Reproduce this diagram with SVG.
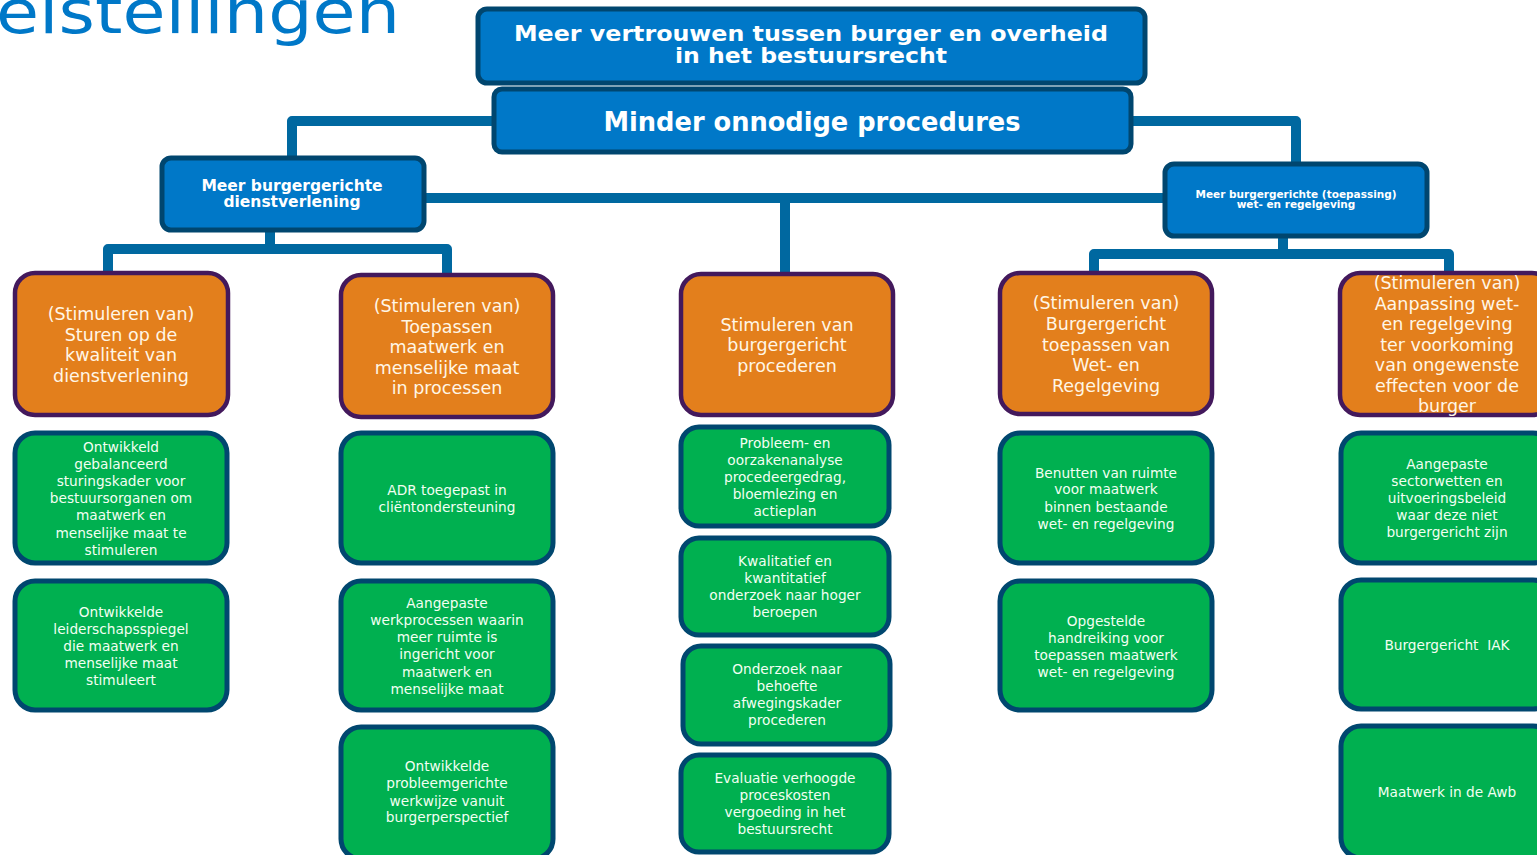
<svg xmlns="http://www.w3.org/2000/svg" width="1537" height="855" viewBox="0 0 1537 855">
<style>
.bg{fill:#ffffff}
.blue{fill:#0078C8;stroke:#00466F;stroke-width:5}
.org{fill:#E37F1C;stroke:#43195C;stroke-width:4.5}
.grn{fill:#00B050;stroke:#00476F;stroke-width:5}
.con{fill:none;stroke:#0068A0;stroke-width:10;stroke-linejoin:round}
.tb{font-family:"DejaVu Sans","Verdana",sans-serif;font-weight:bold;fill:#ffffff;text-anchor:middle}
.to{font-family:"DejaVu Sans","Verdana",sans-serif;font-size:17.5px;fill:#FFF6E6;text-anchor:middle}
.tg{font-family:"DejaVu Sans","Verdana",sans-serif;font-size:13.7px;fill:#F2FFF2;text-anchor:middle}
.title{font-family:"DejaVu Sans","Verdana",sans-serif;font-size:60px;fill:#0078C8}
</style>
<rect class="bg" x="0" y="0" width="1537" height="855"/>
<text class="title" x="-4" y="33" textLength="404" lengthAdjust="spacingAndGlyphs">eistellingen</text>

<g id="connectors">
  <path class="con" d="M494,121 H292 V160"/>
  <path class="con" d="M1131,121 H1296 V166"/>
  <path class="con" d="M424,198 H1165"/>
  <path class="con" d="M785,198 V274"/>
  <path class="con" d="M270,230 V249"/>
  <path class="con" d="M108,274 V249 H447 V276"/>
  <path class="con" d="M1283,236 V254"/>
  <path class="con" d="M1094,274 V254 H1449 V274"/>
</g>

<g id="n-top">
  <rect class="blue" x="478" y="9" width="667" height="74" rx="9"/>
  <text class="tb" x="811" y="41" font-size="22" textLength="594" lengthAdjust="spacingAndGlyphs">Meer vertrouwen tussen burger en overheid</text>
  <text class="tb" x="811" y="63" font-size="22" textLength="272" lengthAdjust="spacingAndGlyphs">in het bestuursrecht</text>
</g>
<g id="n-minder">
  <rect class="blue" x="494" y="89" width="637" height="63" rx="8"/>
  <text class="tb" x="812" y="131" font-size="27" textLength="417" lengthAdjust="spacingAndGlyphs">Minder onnodige procedures</text>
</g>
<g id="n-dienst">
  <rect class="blue" x="162" y="158" width="262" height="72" rx="9"/>
  <text class="tb" x="292" y="191" font-size="15.5">Meer burgergerichte</text>
  <text class="tb" x="292" y="207" font-size="15.5">dienstverlening</text>
</g>
<g id="n-wet">
  <rect class="blue" x="1165" y="164" width="262" height="72" rx="9"/>
  <text class="tb" x="1296" y="198" font-size="10.5">Meer burgergerichte (toepassing)</text>
  <text class="tb" x="1296" y="208" font-size="10.5">wet- en regelgeving</text>
</g>

<g id="o1">
  <rect class="org" x="15" y="273" width="213" height="142" rx="20"/>
  <text class="to" x="121" y="320">(Stimuleren van)</text>
  <text class="to" x="121" y="341">Sturen op de</text>
  <text class="to" x="121" y="361">kwaliteit van</text>
  <text class="to" x="121" y="382">dienstverlening</text>
</g>
<g id="o2">
  <rect class="org" x="341" y="275" width="212" height="142" rx="20"/>
  <text class="to" x="447" y="312">(Stimuleren van)</text>
  <text class="to" x="447" y="333">Toepassen</text>
  <text class="to" x="447" y="353">maatwerk en</text>
  <text class="to" x="447" y="374">menselijke maat</text>
  <text class="to" x="447" y="394">in processen</text>
</g>
<g id="o3">
  <rect class="org" x="681" y="274" width="212" height="141" rx="20"/>
  <text class="to" x="787" y="331">Stimuleren van</text>
  <text class="to" x="787" y="351">burgergericht</text>
  <text class="to" x="787" y="372">procederen</text>
</g>
<g id="o4">
  <rect class="org" x="1000" y="273" width="212" height="141" rx="20"/>
  <text class="to" x="1106" y="309">(Stimuleren van)</text>
  <text class="to" x="1106" y="330">Burgergericht</text>
  <text class="to" x="1106" y="351">toepassen van</text>
  <text class="to" x="1106" y="371">Wet- en</text>
  <text class="to" x="1106" y="392">Regelgeving</text>
</g>
<g id="o5">
  <rect class="org" x="1340" y="273" width="212" height="142" rx="20"/>
  <text class="to" x="1447" y="289">(Stimuleren van)</text>
  <text class="to" x="1447" y="310">Aanpassing wet-</text>
  <text class="to" x="1447" y="330">en regelgeving</text>
  <text class="to" x="1447" y="351">ter voorkoming</text>
  <text class="to" x="1447" y="371">van ongewenste</text>
  <text class="to" x="1447" y="392">effecten voor de</text>
  <text class="to" x="1447" y="412">burger</text>
</g>

<g id="g1a">
  <rect class="grn" x="15" y="433" width="212" height="130" rx="20"/>
  <text class="tg" x="121" y="452">Ontwikkeld</text>
  <text class="tg" x="121" y="469">gebalanceerd</text>
  <text class="tg" x="121" y="486">sturingskader voor</text>
  <text class="tg" x="121" y="503">bestuursorganen om</text>
  <text class="tg" x="121" y="520">maatwerk en</text>
  <text class="tg" x="121" y="538">menselijke maat te</text>
  <text class="tg" x="121" y="555">stimuleren</text>
</g>
<g id="g1b">
  <rect class="grn" x="15" y="581" width="212" height="129" rx="20"/>
  <text class="tg" x="121" y="617">Ontwikkelde</text>
  <text class="tg" x="121" y="634">leiderschapsspiegel</text>
  <text class="tg" x="121" y="651">die maatwerk en</text>
  <text class="tg" x="121" y="668">menselijke maat</text>
  <text class="tg" x="121" y="685">stimuleert</text>
</g>
<g id="g2a">
  <rect class="grn" x="341" y="433" width="212" height="130" rx="20"/>
  <text class="tg" x="447" y="495">ADR toegepast in</text>
  <text class="tg" x="447" y="512">cliëntondersteuning</text>
</g>
<g id="g2b">
  <rect class="grn" x="341" y="581" width="212" height="129" rx="20"/>
  <text class="tg" x="447" y="608">Aangepaste</text>
  <text class="tg" x="447" y="625">werkprocessen waarin</text>
  <text class="tg" x="447" y="642">meer ruimte is</text>
  <text class="tg" x="447" y="659">ingericht voor</text>
  <text class="tg" x="447" y="677">maatwerk en</text>
  <text class="tg" x="447" y="694">menselijke maat</text>
</g>
<g id="g2c">
  <rect class="grn" x="341" y="727" width="212" height="132" rx="20"/>
  <text class="tg" x="447" y="771">Ontwikkelde</text>
  <text class="tg" x="447" y="788">probleemgerichte</text>
  <text class="tg" x="447" y="806">werkwijze vanuit</text>
  <text class="tg" x="447" y="822">burgerperspectief</text>
</g>
<g id="g3a">
  <rect class="grn" x="681" y="427" width="208" height="99" rx="18"/>
  <text class="tg" x="785" y="448">Probleem- en</text>
  <text class="tg" x="785" y="465">oorzakenanalyse</text>
  <text class="tg" x="785" y="482">procedeergedrag,</text>
  <text class="tg" x="785" y="499">bloemlezing en</text>
  <text class="tg" x="785" y="516">actieplan</text>
</g>
<g id="g3b">
  <rect class="grn" x="681" y="538" width="208" height="97" rx="18"/>
  <text class="tg" x="785" y="566">Kwalitatief en</text>
  <text class="tg" x="785" y="583">kwantitatief</text>
  <text class="tg" x="785" y="600">onderzoek naar hoger</text>
  <text class="tg" x="785" y="617">beroepen</text>
</g>
<g id="g3c">
  <rect class="grn" x="683" y="646" width="207" height="98" rx="18"/>
  <text class="tg" x="787" y="674">Onderzoek naar</text>
  <text class="tg" x="787" y="691">behoefte</text>
  <text class="tg" x="787" y="708">afwegingskader</text>
  <text class="tg" x="787" y="725">procederen</text>
</g>
<g id="g3d">
  <rect class="grn" x="681" y="755" width="208" height="97" rx="18"/>
  <text class="tg" x="785" y="783">Evaluatie verhoogde</text>
  <text class="tg" x="785" y="800">proceskosten</text>
  <text class="tg" x="785" y="817">vergoeding in het</text>
  <text class="tg" x="785" y="834">bestuursrecht</text>
</g>
<g id="g4a">
  <rect class="grn" x="1000" y="433" width="212" height="130" rx="20"/>
  <text class="tg" x="1106" y="478">Benutten van ruimte</text>
  <text class="tg" x="1106" y="494">voor maatwerk</text>
  <text class="tg" x="1106" y="512">binnen bestaande</text>
  <text class="tg" x="1106" y="529">wet- en regelgeving</text>
</g>
<g id="g4b">
  <rect class="grn" x="1000" y="581" width="212" height="129" rx="20"/>
  <text class="tg" x="1106" y="626">Opgestelde</text>
  <text class="tg" x="1106" y="643">handreiking voor</text>
  <text class="tg" x="1106" y="660">toepassen maatwerk</text>
  <text class="tg" x="1106" y="677">wet- en regelgeving</text>
</g>
<g id="g5a">
  <rect class="grn" x="1341" y="433" width="212" height="130" rx="20"/>
  <text class="tg" x="1447" y="469">Aangepaste</text>
  <text class="tg" x="1447" y="486">sectorwetten en</text>
  <text class="tg" x="1447" y="503">uitvoeringsbeleid</text>
  <text class="tg" x="1447" y="520">waar deze niet</text>
  <text class="tg" x="1447" y="537">burgergericht zijn</text>
</g>
<g id="g5b">
  <rect class="grn" x="1341" y="580" width="212" height="129" rx="20"/>
  <text class="tg" x="1447" y="650" xml:space="preserve">Burgergericht  IAK</text>
</g>
<g id="g5c">
  <rect class="grn" x="1341" y="726" width="212" height="132" rx="20"/>
  <text class="tg" x="1447" y="797">Maatwerk in de Awb</text>
</g>
</svg>
